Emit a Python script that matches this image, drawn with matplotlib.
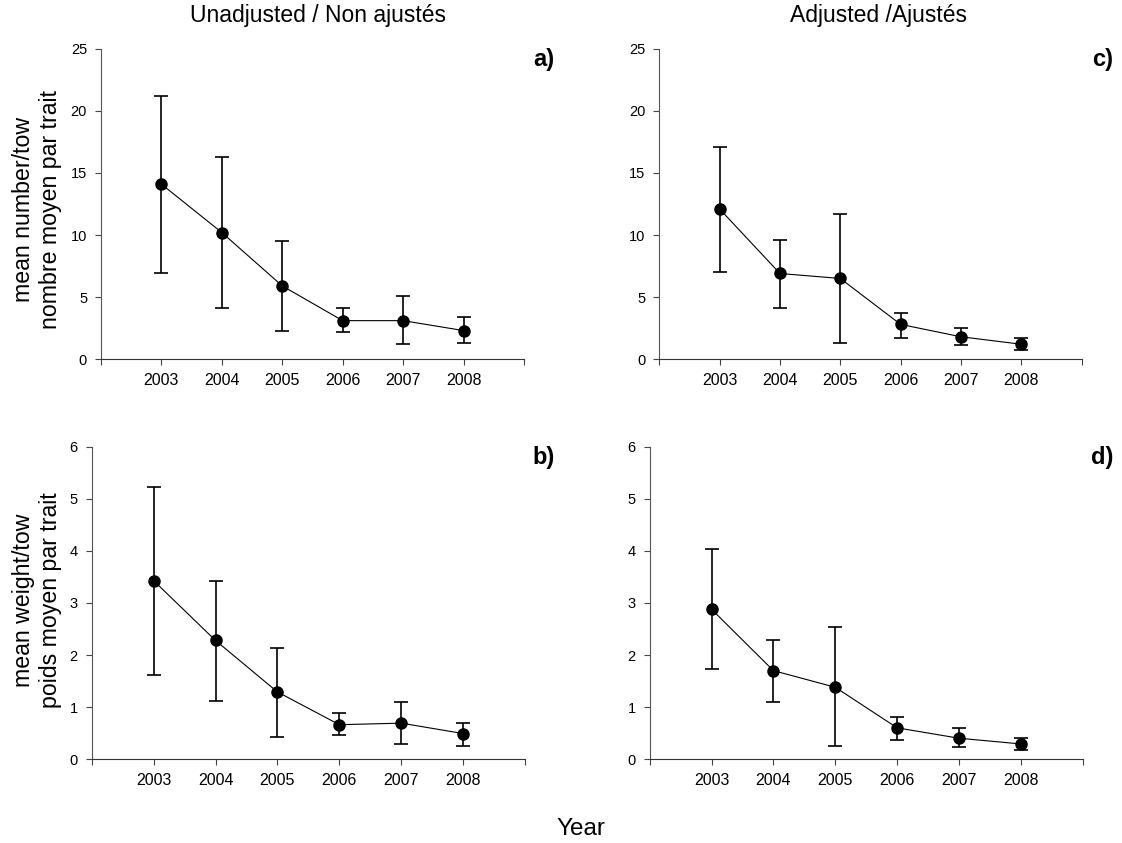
import matplotlib
matplotlib.use("Agg")
import matplotlib.pyplot as plt

plt.rcParams['font.family'] = ['Liberation Sans', 'DejaVu Sans']

years = [2003, 2004, 2005, 2006, 2007, 2008]

# a) unadjusted number / tow
num_unadj = [14.1, 10.2, 5.9, 3.1, 3.1, 2.3]
num_unadj_lo = [6.9, 4.1, 2.3, 2.2, 1.2, 1.3]
num_unadj_hi = [21.2, 16.3, 9.5, 4.1, 5.1, 3.4]

# c) adjusted number / tow
num_adj = [12.1, 6.9, 6.5, 2.8, 1.8, 1.2]
num_adj_lo = [7.0, 4.1, 1.3, 1.7, 1.1, 0.75]
num_adj_hi = [17.1, 9.6, 11.7, 3.7, 2.5, 1.7]

# b) unadjusted weight / tow
wt_unadj = [3.43, 2.28, 1.29, 0.66, 0.69, 0.49]
wt_unadj_lo = [1.62, 1.12, 0.43, 0.46, 0.29, 0.26]
wt_unadj_hi = [5.23, 3.43, 2.14, 0.89, 1.09, 0.69]

# d) adjusted weight / tow
wt_adj = [2.88, 1.70, 1.38, 0.60, 0.40, 0.29]
wt_adj_lo = [1.73, 1.09, 0.25, 0.37, 0.23, 0.17]
wt_adj_hi = [4.03, 2.28, 2.54, 0.80, 0.60, 0.40]

fig = plt.figure(figsize=(11.22, 8.43), dpi=100)

panels = [
    ([0.090, 0.574, 0.377, 0.368], num_unadj, num_unadj_lo, num_unadj_hi, 25, 5, 'a)'),
    ([0.5876, 0.574, 0.3764, 0.368], num_adj, num_adj_lo, num_adj_hi, 25, 5, 'c)'),
    ([0.0817, 0.0996, 0.3863, 0.3702], wt_unadj, wt_unadj_lo, wt_unadj_hi, 6, 1, 'b)'),
    ([0.579, 0.0996, 0.386, 0.3702], wt_adj, wt_adj_lo, wt_adj_hi, 6, 1, 'd)'),
]

for rect, y, lo, hi, ymax, step, lab in panels:
    ax = fig.add_axes(rect)
    err = [[v - l for v, l in zip(y, lo)], [h - v for v, h in zip(y, hi)]]
    ax.errorbar(years, y, yerr=err, color='black', lw=0.8, elinewidth=1.2,
                capsize=5, capthick=1.2, marker='o', ms=8, mfc='black', mec='black')
    ax.set_xlim(2002, 2009)
    ax.set_ylim(0, ymax)
    ax.set_xticks(range(2002, 2010))
    ax.set_xticklabels([''] + [str(v) for v in years] + [''])
    ax.set_yticks(range(0, ymax + 1, step))
    ax.spines['top'].set_visible(False)
    ax.spines['right'].set_visible(False)
    ax.spines['left'].set_color('#555555')
    ax.spines['bottom'].set_color('#333333')
    ax.tick_params(axis='both', length=4, width=0.8, color='#444444')
    ax.tick_params(axis='x', labelsize=11.5, pad=6)
    ax.tick_params(axis='y', labelsize=10.5, pad=6)
    x0 = rect[0]
    fig.text(0.494 if x0 < 0.5 else 0.992, rect[1] + rect[3] - 0.013, lab,
             fontsize=17, fontweight='bold', ha='right', va='center')

fig.text(0.283, 0.982, 'Unadjusted / Non ajustés', fontsize=16.5, ha='center', va='center')
fig.text(0.783, 0.982, 'Adjusted /Ajustés', fontsize=16.5, ha='center', va='center')
fig.text(0.033, 0.752, 'mean number/tow\nnombre moyen par trait', fontsize=16.7,
         rotation=90, ha='center', va='center', linespacing=1.2)
fig.text(0.033, 0.288, 'mean weight/tow\npoids moyen par trait', fontsize=16.7,
         rotation=90, ha='center', va='center', linespacing=1.2)
fig.text(0.518, 0.017, 'Year', fontsize=17.5, ha='center', va='center')

fig.savefig('out.png', dpi=100)
